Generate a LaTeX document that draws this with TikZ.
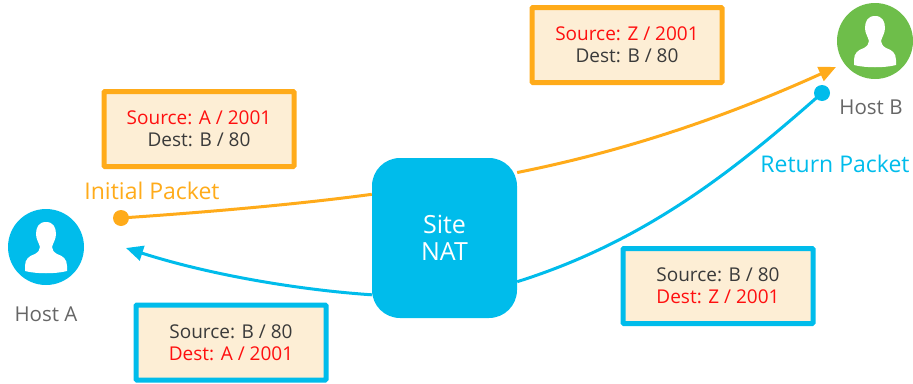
\documentclass[tikz,border=0pt]{standalone}
\usepackage{fontspec}
\setmainfont{Open Sans}
\usepackage{tikz}
\usetikzlibrary{arrows.meta}
\usetikzlibrary{backgrounds}
\definecolor{natblue}{HTML}{00BCEB}
\definecolor{pktorange}{HTML}{FFAB1A}
\definecolor{hostgreen}{HTML}{6EBE4A}
\definecolor{boxfill}{HTML}{FDEED5}
\definecolor{addrred}{HTML}{FF0F0F}
\definecolor{addrgray}{HTML}{3A3A3A}
\definecolor{hostgray}{HTML}{666666}
\tikzset{
	pktbox/.style={draw=#1, line width=5pt, fill=boxfill, rounded corners=1pt, minimum width=190pt, minimum height=75pt,
		align=center, text=addrgray, font=\fontsize{19}{22}\selectfont, inner sep=0pt, text depth=0pt},
	hostdot/.style={circle, fill=#1, minimum size=76pt, inner sep=0pt},
	enddot/.style={circle, fill=#1, minimum size=16pt, inner sep=0pt},
	hostlabel/.style={text=hostgray, font=\fontsize{20.5}{22}\selectfont, inner sep=0pt},
	pktlabel/.style={text=#1, font=\fontsize{23}{26}\selectfont, inner sep=0pt},
	pktline/.style={draw=#1, line width=3pt, -{Triangle[length=17pt,width=15pt]}},
	pktlineplain/.style={draw=#1, line width=3pt},
	pics/person/.style={code={
		\fill[white] (0,-25) .. controls (7,-25) and (10,-20) .. (10,-13)
			.. controls (10,-8) and (7,-4) .. (6,0) .. controls (6,3) and (8,5) .. (11,7)
			.. controls (17,9) and (21,12) .. (21,19) -- (21,24)
			.. controls (10,27) and (-10,27) .. (-21,24) -- (-21,19)
			.. controls (-21,12) and (-17,9) .. (-11,7) .. controls (-8,5) and (-6,3) .. (-6,0)
			.. controls (-7,-4) and (-10,-8) .. (-10,-13) .. controls (-10,-20) and (-7,-25) .. (0,-25) -- cycle;
	}}
}
\begin{document}
\begin{tikzpicture}[x=1pt,y=-1pt]
	\useasboundingbox (0,0) rectangle (913,383);
	% hosts
	\node[hostdot=natblue] (hostA) at (46,247) {};
	\pic at (hostA) {person};
	\node[hostlabel] (hostAlabel) at (46,314) {Host A};
	\node[hostdot=hostgreen] (hostB) at (875,41) {};
	\pic at (hostB) {person};
	\node[hostlabel] (hostBlabel) at (871,107) {Host B};
	% site nat
	\node[fill=natblue, rounded corners=28pt, minimum width=145pt, minimum height=160pt, align=center,
		text=white, font=\fontsize{25}{27.5}\selectfont, inner sep=0pt, text depth=0pt] (nat) at (444.5,238) {Site\\NAT};
	% packet boxes
	\node[pktbox=pktorange] (boxInit) at (199,129) {\textcolor{addrred}{Source: A / 2001}\\Dest: B / 80};
	\node[pktbox=pktorange] (boxOut) at (627,45) {\textcolor{addrred}{Source: Z / 2001}\\Dest: B / 80};
	\node[pktbox=natblue] (boxBack) at (231,342.5) {Source: B / 80\\\textcolor{addrred}{Dest: A / 2001}};
	\node[pktbox=natblue] (boxRet) at (718,286) {Source: B / 80\\\textcolor{addrred}{Dest: Z / 2001}};
	% labels
	\node[pktlabel=pktorange] (initLabel) at (152,191) {Initial Packet};
	\node[pktlabel=natblue] (retLabel) at (835,164) {Return Packet};
	% line ends
	\node[enddot=pktorange] (dotInit) at (121,218) {};
	\node[enddot=natblue] (dotRet) at (822,93) {};
	\coordinate (tipB) at (836,67);
	\coordinate (tipA) at (126,248);
	% packet paths
	\begin{scope}[on background layer]
		\draw[pktlineplain=pktorange] (dotInit.center) .. controls (210,212) and (300,204) .. (nat.149);
		\draw[pktline=pktorange] (nat.42) .. controls (630,150) and (730,115) .. (tipB);
		\draw[pktlineplain=natblue] (nat.-31) .. controls (650,240) and (740,165) .. (dotRet.center);
		\draw[pktline=natblue] (nat.218) .. controls (300,290) and (210,275) .. (tipA);
	\end{scope}
\end{tikzpicture}
\end{document}
